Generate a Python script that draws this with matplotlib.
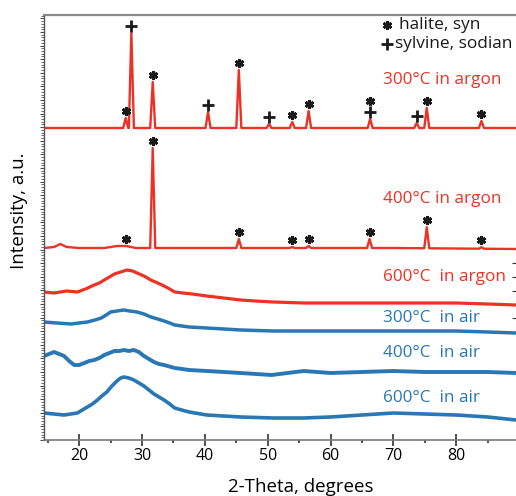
import numpy as np
import matplotlib
matplotlib.use("Agg")
import matplotlib.pyplot as plt
from matplotlib.ticker import MultipleLocator, FixedLocator

plt.rcParams["font.family"] = ["Open Sans", "DejaVu Sans"]

RED = "#EC3224"
BLUE = "#2A77B5"

# ---- data (2-Theta in degrees, intensity in a.u.) ----
two_theta_lim = (14.4, 89.5)

# vertical stacking offsets of the patterns
offset_ar300 = 312
offset_ar400 = 192
offset_ar600 = 135
offset_air300 = 107
offset_air400 = 67
offset_air600 = 20

# 300 C in argon: background and reflections
ar300_bg_x = [14.4, 89.5]
ar300_bg_y = [0, 0]
ar300_peak_pos = [27.4, 28.3, 31.7, 40.5, 45.4, 50.2, 53.9, 56.5, 66.3, 73.7, 75.3, 84.0]
ar300_peak_h = [10, 95, 46, 16, 58, 4, 6, 17, 9, 5, 20, 7]
ar300_halite = [27.4, 31.7, 45.4, 53.9, 56.5, 66.3, 75.3, 84.0]
ar300_sylvine = [28.3, 40.5, 50.2, 66.3, 73.7]

# 400 C in argon
ar400_bg_x = [14.4, 16.0, 17.0, 18.0, 20.0, 24.0, 26.0, 27.5, 29.0, 35.0, 50.0, 70.0, 89.5]
ar400_bg_y = [0, 1, 4, 1, 0, 0, 2, 2, 0, 0, 0, 0, -1]
ar400_peak_pos = [31.7, 45.4, 53.9, 56.5, 66.2, 75.3, 84.0]
ar400_peak_h = [100, 9, 1, 2, 9, 21, 1.5]
ar400_halite = [27.4, 31.7, 45.4, 53.9, 56.5, 66.2, 75.3, 84.0]

# amorphous patterns
ar600_x = [14.4, 16, 18, 19.7, 21, 22.4, 23.2, 24, 24.8, 25.6, 26.6, 27.6, 28.5, 29.2, 30.3,
           31.4, 32.5, 33.5, 34.4, 35.2, 36.5, 38, 40.3, 43, 45.7, 48, 50.9, 55.7, 60, 65,
           70, 75, 80, 85, 89.5]
ar600_y = [13, 12, 14, 13, 16, 20, 22, 25, 28, 31, 33, 35, 34, 32, 29,
           25, 22, 19, 16, 13, 12, 11, 9, 7, 5, 4, 3, 2, 2, 2,
           2, 2, 2, 1, 0]

air300_x = [14.4, 16.5, 18.7, 20, 21.3, 22.5, 23.5, 24.3, 25, 26, 27.1, 28, 29.2, 30.3, 31.4,
            32.5, 33.5, 34.4, 35.2, 37.5, 40.3, 43, 45.7, 50.9, 55.7, 60, 65, 70, 75, 80,
            85, 89.5]
air300_y = [11, 10, 9, 10, 11, 13, 15, 18, 21, 22, 23, 22, 21, 19, 16,
            14, 12, 10, 8, 6, 5, 4, 3, 2, 2, 2, 2, 2, 2, 2,
            1, 0]

air400_x = [14.4, 15.2, 16, 16.8, 17.6, 18.4, 19.2, 20, 20.8, 21.6, 22.4, 23.2, 24, 24.8,
            25.6, 26.4, 27.1, 27.9, 28.7, 29.5, 30.3, 31.1, 31.9, 32.7, 33.5, 35.2, 37.5,
            40.3, 45.7, 50.6, 55.7, 60, 65, 70, 75, 80, 85, 89.5]
air400_y = [17, 19, 21, 19, 17, 12, 8, 8, 10, 12, 13, 15, 18, 20,
            22, 22, 23, 22, 23, 21, 17, 14, 11, 9, 8, 5, 3,
            2, 0, -2, 2, 0, 1, 2, 1, 1, 1, 0]

air600_x = [14.4, 16, 17.6, 19.7, 20.5, 21.3, 22.1, 22.9, 23.6, 24.4, 25.2, 26, 26.6, 27.1,
            27.9, 28.7, 29.5, 30.3, 31.1, 31.9, 32.7, 33.5, 34.4, 35.2, 36.3, 37.5, 40.3,
            43, 45.7, 50.9, 55.7, 60, 65, 70, 75, 80, 85, 89.5]
air600_y = [7, 6, 5, 7, 10, 13, 16, 20, 24, 28, 34, 39, 42, 43,
            42, 40, 37, 34, 30, 26, 23, 20, 16, 12, 10, 8, 5,
            4, 3, 2, 2, 3, 5, 7, 6, 5, 3, 0]

curve_labels = ["300°C in argon", "400°C in argon", "600°C  in argon",
                "300°C  in air", "400°C  in air", "600°C  in air"]
label_y = [360, 241, 163, 122, 87, 42]
label_colors = [RED, RED, RED, BLUE, BLUE, BLUE]


def with_reflections(bg_x, bg_y, pos, h, hw=0.4):
    """Background polyline with narrow reflections inserted."""
    xs = list(bg_x)
    ys = list(bg_y)
    for p, hh in zip(pos, h):
        for xx in (p - hw, p + hw):
            xs.append(xx)
            ys.append(float(np.interp(xx, bg_x, bg_y)))
        xs.append(p)
        ys.append(float(np.interp(p, bg_x, bg_y)) + hh)
    order = np.argsort(xs)
    return np.asarray(xs)[order], np.asarray(ys)[order]


def top_at(p, bg_x, bg_y, pos, h):
    base = float(np.interp(p, bg_x, bg_y))
    for pp, hh in zip(pos, h):
        if abs(pp - p) < 1e-6:
            return base + hh
    return base


fig = plt.figure(figsize=(5.16, 4.96), dpi=100)
ax = fig.add_axes([44 / 516, 56 / 496, 472 / 516, 425 / 496])

x1, y1 = with_reflections(ar300_bg_x, ar300_bg_y, ar300_peak_pos, ar300_peak_h)
x2, y2 = with_reflections(ar400_bg_x, ar400_bg_y, ar400_peak_pos, ar400_peak_h)

ax.plot(x1, y1 + offset_ar300, color=RED, lw=1.7)
ax.plot(x2, y2 + offset_ar400, color=RED, lw=1.7)
ax.plot(ar600_x, np.asarray(ar600_y) + offset_ar600, color=RED, lw=2.3)
ax.plot(air300_x, np.asarray(air300_y) + offset_air300, color=BLUE, lw=2.5)
ax.plot(air400_x, np.asarray(air400_y) + offset_air400, color=BLUE, lw=2.8)
ax.plot(air600_x, np.asarray(air600_y) + offset_air600, color=BLUE, lw=2.6)

# phase markers above the reflections
star_kw = dict(marker=(6, 2, 0), ms=6.5, mew=2.0, color="#1a1a1a", ls="none")
plus_kw = dict(marker="+", ms=9, mew=2.0, color="#1a1a1a", ls="none")

gap = 7
hx, hy = [], []
sx, sy = [], []
for p in ar300_sylvine:
    sx.append(p)
    sy.append(offset_ar300 + top_at(p, ar300_bg_x, ar300_bg_y, ar300_peak_pos, ar300_peak_h) + gap)
for p in ar300_halite:
    t = offset_ar300 + top_at(p, ar300_bg_x, ar300_bg_y, ar300_peak_pos, ar300_peak_h) + gap
    if p in ar300_sylvine:
        t += 11
    hx.append(p)
    hy.append(t)
for p in ar400_halite:
    hx.append(p)
    hy.append(offset_ar400 + top_at(p, ar400_bg_x, ar400_bg_y, ar400_peak_pos, ar400_peak_h) + gap)
ax.plot(hx, hy, **star_kw)
ax.plot(sx, sy, **plus_kw)

# curve labels
for txt, yy, c in zip(curve_labels, label_y, label_colors):
    ax.text(68.3, yy, txt, color=c, fontsize=12.3, ha="left", va="center")

# phase key
ax.plot([69.0], [415], **star_kw)
ax.text(70.9, 415, "halite, syn", fontsize=12.4, ha="left", va="center", color="#1a1a1a")
ax.plot([69.0], [396], **plus_kw)
ax.text(70.3, 396, "sylvine, sodian", fontsize=12.4, ha="left", va="center", color="#1a1a1a")

ax.set_xlim(*two_theta_lim)
ax.set_ylim(0, 425)

# axes styling
ax.spines["right"].set_visible(False)
ax.spines["top"].set_color("#8a8a8a")
ax.spines["top"].set_linewidth(1.6)
ax.spines["bottom"].set_color("#7a7a7a")
ax.spines["bottom"].set_linewidth(1.2)
ax.spines["left"].set_color("#555555")
ax.spines["left"].set_linewidth(1.0)

ax.xaxis.set_major_locator(MultipleLocator(10))
ax.xaxis.set_minor_locator(MultipleLocator(5))
ax.tick_params(axis="x", which="major", direction="inout", length=8, width=1.2,
               color="#333333", labelsize=11.5, pad=2)
ax.tick_params(axis="x", which="minor", direction="out", length=2, width=1.5, color="#555555")

ax.yaxis.set_major_locator(MultipleLocator(13.6))
ax.yaxis.set_minor_locator(MultipleLocator(2.72))
ax.tick_params(axis="y", which="major", direction="out", length=3.2, width=0.7,
               color="#444444", labelleft=False)
ax.tick_params(axis="y", which="minor", direction="out", length=2.4, width=0.6, color="#555555")

# short inward ticks of a partly visible right-hand scale
ax_r = ax.twinx()
ax_r.set_ylim(0, 425)
ax_r.yaxis.set_major_locator(FixedLocator([177, 163, 149, 122]))
ax_r.tick_params(axis="y", direction="in", length=3, width=0.8, color="#333333", labelright=False)
for s in ax_r.spines.values():
    s.set_visible(False)

ax.set_xlabel("2-Theta, degrees", fontsize=13.5)
ax.xaxis.set_label_coords(0.545, -0.09)
ax.set_ylabel("Intensity, a.u.", fontsize=13.5)
ax.yaxis.set_label_coords(-0.034, 0.54)

fig.savefig("out.png", dpi=100)
